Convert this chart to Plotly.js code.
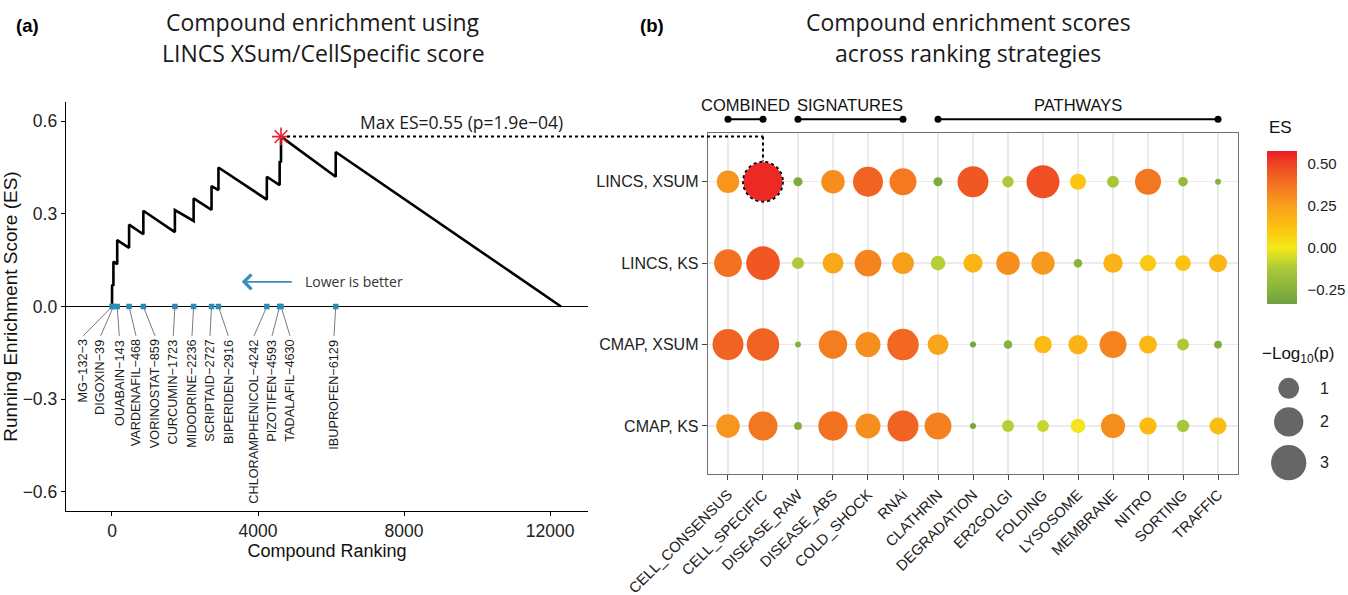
<!DOCTYPE html>
<html><head><meta charset="utf-8">
<script src="https://cdn.plot.ly/plotly-3.0.1.min.js"></script>
<style>html,body{margin:0;padding:0;background:#fff}#chart{width:1348px;height:595px}</style>
</head><body><div id="chart"></div>
<script>
// ---------------- Panel (a) data ----------------
const hitNames = ["MG\u2212132","DIGOXIN","OUABAIN","VARDENAFIL","VORINOSTAT","CURCUMIN","MIDODRINE","SCRIPTAID","BIPERIDEN","CHLORAMPHENICOL","PIZOTIFEN","TADALAFIL","IBUPROFEN"];
const hitRanks = [3,39,143,468,859,1723,2236,2727,2916,4242,4593,4630,6129];
const curveRank = [0,3,3,39,39,143,143,468,468,859,859,1723,1723,2236,2236,2727,2727,2916,2916,4242,4242,4593,4593,4630,4630,6129,6129,12300];
const curveES = [0,0,0.07,0.067,0.145,0.137,0.215,0.19,0.265,0.234,0.31,0.241,0.312,0.277,0.35,0.313,0.39,0.377,0.45,0.346,0.42,0.393,0.47,0.467,0.55,0.42,0.50,0];
const maxP = "1.9e\u221204";
const rankTicks = [0,4000,8000,12000];
const esAxisTicks = [-0.6,-0.3,0,0.3,0.6];
// label placement (layout, repelled positions in rank units)
const labelPos = [-786,-310,200,658,1178,1680,2192,2685,3186,3890,4384,4877,6082];

// ---------------- Panel (b) data ----------------
const strategies = ["LINCS, XSUM","LINCS, KS","CMAP, XSUM","CMAP, KS"];
const rankings = ["CELL_CONSENSUS","CELL_SPECIFIC","DISEASE_RAW","DISEASE_ABS","COLD_SHOCK","RNAi","CLATHRIN","DEGRADATION","ER2GOLGI","FOLDING","LYSOSOME","MEMBRANE","NITRO","SORTING","TRAFFIC"];
const esLincsXsum = [0.28,0.55,-0.28,0.30,0.42,0.36,-0.28,0.45,-0.12,0.47,0.12,-0.13,0.37,-0.20,-0.25];
const esLincsKs   = [0.38,0.45,-0.12,0.22,0.33,0.25,-0.10,0.17,0.30,0.27,-0.25,0.18,0.10,0.12,0.17];
const esCmapXsum  = [0.42,0.42,-0.25,0.35,0.30,0.41,0.23,-0.30,-0.25,0.15,0.18,0.33,0.16,-0.12,-0.27];
const esCmapKs    = [0.28,0.37,-0.27,0.38,0.30,0.42,0.34,-0.30,-0.10,-0.07,0.02,0.30,0.15,-0.13,0.14];
const lpLincsXsum = [1.16,3.72,0.33,1.26,2.11,1.68,0.33,2.26,0.39,2.59,0.61,0.41,1.56,0.34,0.30];
const lpLincsKs   = [1.78,2.69,0.41,0.99,1.63,1.08,0.53,0.83,1.26,1.23,0.32,0.86,0.63,0.59,0.75];
const lpCmapXsum  = [2.26,2.51,0.30,1.88,1.43,2.34,0.99,0.30,0.32,0.72,0.86,1.68,0.75,0.41,0.31];
const lpCmapKs    = [1.26,1.96,0.31,2.02,1.43,2.26,1.68,0.30,0.41,0.41,0.53,1.34,0.70,0.43,0.68];
const groupNames = ["COMBINED","SIGNATURES","PATHWAYS"];
const groupFirst = [0,2,6];
const groupLast  = [1,5,14];
const sizeLegendValues = [1,2,3];
const esTicks = [-0.25,0,0.25,0.5];
const esTickText = ["\u22120.25","0.00","0.25","0.50"];

// ---------------- layout geometry ----------------
const W = 1348, H = 595;
const px = v => v / W, py = v => 1 - v / H;
const A = {xDom:[px(66),px(588)], yDom:[py(511),py(102)], xR:[-1260,13040], yR:[-0.662,0.662]};
const B = {xDom:[px(708),px(1238)], yDom:[py(474),py(133.3)], xR:[-0.571,14.571], yR:[3.59,-0.595]};
const toP = (dom, r, v) => dom[0] + (v - r[0]) / (r[1] - r[0]) * (dom[1] - dom[0]);

const FONT = "Liberation Sans, Arial, Helvetica, sans-serif";
const TFONT = "Open Sans, Noto Sans, sans-serif";
const INK = "#1a1a1a";
const TEAL = "#2b8db3";

// ---------------- panel (a) traces ----------------
const connX = [], connY = [];
hitRanks.forEach((r, i) => { connX.push(r, labelPos[i], null); connY.push(0, -0.095, null); });
let iMax = 0; curveES.forEach((v, i) => { if (v > curveES[iMax]) iMax = i; });
const starRank = curveRank[iMax], starES = curveES[iMax];

const traces = [
  {x: connX, y: connY, xaxis:'x', yaxis:'y', mode:'lines', line:{color:'#6b6b6b', width:0.9}, hoverinfo:'skip'},
  {x: curveRank, y: curveES, xaxis:'x', yaxis:'y', mode:'lines', line:{color:'#000', width:2.6}},
  {x: hitRanks, y: hitRanks.map(() => 0), xaxis:'x', yaxis:'y', mode:'markers', marker:{symbol:'square', size:5.5, color:TEAL, opacity:1}},
  {x:[starRank], y:[starES], xaxis:'x', yaxis:'y', mode:'markers', cliponaxis:false,
   marker:{symbol:'asterisk-open', size:15, color:'#e8202a', line:{color:'#e8202a', width:1.6}}}
];

// ---------------- panel (b) traces ----------------
const esRows = [esLincsXsum, esLincsKs, esCmapXsum, esCmapKs];
const lpRows = [lpLincsXsum, lpLincsKs, lpCmapXsum, lpCmapKs];
const allLp = lpRows.flat();
const vmin = Math.min(...allLp), vmax = Math.max(...allLp);
const dMin = 6, dMax = 39;
const sizeScale = v => dMin + (dMax - dMin) * Math.sqrt(Math.max(0, (v - vmin) / (vmax - vmin)));
const bx = [], by = [], bc = [], bs = [];
esRows.forEach((row, r) => row.forEach((es, c) => { bx.push(c); by.push(r); bc.push(es); bs.push(sizeScale(lpRows[r][c])); }));
const cmin = -0.33, cmax = 0.575;
const esScale = [[0,'#6f9e3f'],[0.088,'#86b23c'],[0.227,'#a9c83a'],[0.365,'#f2ea1a'],[0.503,'#fdc111'],[0.641,'#f8a01c'],[0.779,'#f37421'],[0.917,'#ee4423'],[1,'#ec1c24']];
traces.push({
  x: bx, y: by, xaxis:'x2', yaxis:'y2', mode:'markers',
  marker:{size: bs, sizemode:'diameter', color: bc, cmin: cmin, cmax: cmax, colorscale: esScale, opacity:1, line:{width:0},
    colorbar:{x: px(1267), xanchor:'left', xpad:0, y: py(150.7), yanchor:'top', ypad:0,
      len:152.6, lenmode:'pixels', thickness:30, thicknessmode:'pixels', outlinewidth:0,
      tickvals: esTicks, ticktext: esTickText, ticks:'outside', ticklen:8, tickcolor:'rgba(0,0,0,0)',
      tickfont:{family:FONT, size:15, color:'#222'}, title:{text:''}}}
});

// group brackets
const gbx = [], gby = [];
groupFirst.forEach((f, i) => { gbx.push(f, groupLast[i], null); gby.push(119.3, 119.3, null); });
traces.push({x: gbx, y: gby, xaxis:'x4', yaxis:'y4', mode:'lines+markers', cliponaxis:false,
  line:{color:'#000', width:2}, marker:{color:'#000', size:7, opacity:1}});

// size legend
const legD = sizeLegendValues.map(sizeScale);
const legY = []; let cy = 388.3;
legD.forEach((d, i) => { if (i > 0) cy += legD[i-1]/2 + d/2 + 8.5; legY.push(cy); });
traces.push({x: sizeLegendValues.map(() => 1288.7), y: legY, xaxis:'x3', yaxis:'y3', mode:'markers', cliponaxis:false,
  marker:{size: legD, color:'#666666', opacity:1, line:{width:0}}});

// ---------------- annotations & shapes ----------------
const ann = [];
hitNames.forEach((n, i) => ann.push({x: labelPos[i], y: -0.101, xref:'x', yref:'y', text: n + '\u2212' + hitRanks[i],
  textangle:-90, xanchor:'center', yanchor:'top', showarrow:false, font:{family:FONT, size:12.7, color:INK}}));
ann.push({x: 9575, y: 0.598, xref:'x', yref:'y', text: 'Max ES=' + starES.toFixed(2) + ' (p=' + maxP + ')',
  showarrow:false, xanchor:'center', yanchor:'middle', font:{family:TFONT, size:17.5, color:INK}});
ann.push({x: 5241, y: 0.080, xref:'x', yref:'y', text:'Lower is better', showarrow:false, xanchor:'left', yanchor:'middle',
  font:{family:TFONT, size:14, color:'#333'}});
ann.push({x: 3553, y: 0.080, ax: 4967, ay: 0.080, xref:'x', yref:'y', axref:'x', ayref:'y', text:'', showarrow:true,
  arrowhead:4, arrowsize:1.6, arrowwidth:1.8, arrowcolor:'#3a8dbd', standoff:0, startstandoff:0});
// titles
const titleFont = {family:TFONT, size:23, color:INK};
ann.push({x: px(323), y: py(22), xref:'paper', yref:'paper', text:'Compound enrichment using', showarrow:false, xanchor:'center', yanchor:'middle', font:titleFont});
ann.push({x: px(323), y: py(53), xref:'paper', yref:'paper', text:'LINCS XSum/CellSpecific score', showarrow:false, xanchor:'center', yanchor:'middle', font:titleFont});
ann.push({x: px(968), y: py(22), xref:'paper', yref:'paper', text:'Compound enrichment scores', showarrow:false, xanchor:'center', yanchor:'middle', font:titleFont});
ann.push({x: px(968), y: py(53), xref:'paper', yref:'paper', text:'across ranking strategies', showarrow:false, xanchor:'center', yanchor:'middle', font:titleFont});
ann.push({x: px(14), y: py(26), xref:'paper', yref:'paper', text:'<b>(a)</b>', showarrow:false, xanchor:'left', yanchor:'middle', font:{family:FONT, size:18.5, color:'#000'}});
ann.push({x: px(638), y: py(26), xref:'paper', yref:'paper', text:'<b>(b)</b>', showarrow:false, xanchor:'left', yanchor:'middle', font:{family:FONT, size:18.5, color:'#000'}});
// group names
groupNames.forEach((g, i) => ann.push({x: (groupFirst[i] + groupLast[i]) / 2, y: py(105), xref:'x2', yref:'paper', text: g,
  showarrow:false, xanchor:'center', yanchor:'middle', font:{family:FONT, size:16.5, color:'#111'}}));
// legends
ann.push({x: px(1267), y: py(127), xref:'paper', yref:'paper', text:'ES', showarrow:false, xanchor:'left', yanchor:'middle', font:{family:FONT, size:17, color:'#111'}});
ann.push({x: px(1260), y: py(355), xref:'paper', yref:'paper', text:'\u2212Log<sub>10</sub>(p)', showarrow:false, xanchor:'left', yanchor:'middle', font:{family:FONT, size:17, color:'#111'}});
sizeLegendValues.forEach((v, i) => ann.push({x: 1324.7, y: legY[i], xref:'x3', yref:'y3', text: String(v), showarrow:false,
  xanchor:'center', yanchor:'middle', font:{family:FONT, size:16, color:'#222'}}));

// dotted connector from the max ES star to the CELL_SPECIFIC / LINCS XSUM cell
const sx = toP(A.xDom, A.xR, starRank), sy = toP(A.yDom, A.yR, starES);
const cellCol = rankings.indexOf("CELL_SPECIFIC"), cellRow = strategies.indexOf("LINCS, XSUM");
const cx = toP(B.xDom, B.xR, cellCol);
const cellD = bs[cellRow * rankings.length + cellCol];
const cyTop = toP(B.yDom, B.yR, cellRow) + (cellD / 2 + 1) / H;
const shapes = [
  {type:'line', xref:'paper', yref:'paper', x0: sx + 6/W, y0: sy, x1: cx, y1: sy, line:{color:'#000', width:2, dash:'dot'}},
  {type:'line', xref:'paper', yref:'paper', x0: cx, y0: sy, x1: cx, y1: cyTop, line:{color:'#000', width:2, dash:'dot'}},
  {type:'circle', xref:'x2', yref:'y2', xsizemode:'pixel', ysizemode:'pixel', xanchor: cellCol, yanchor: cellRow,
   x0: -(cellD/2 + 0.5), x1: cellD/2 + 0.5, y0: -(cellD/2 + 0.5), y1: cellD/2 + 0.5, line:{color:'#000', width:1.8, dash:'dot'}}
];

const axFont = {family:FONT, size:17.5, color:'#222'};
const layout = {
  width: W, height: H, margin:{l:0, r:0, t:0, b:0}, paper_bgcolor:'#fff', plot_bgcolor:'rgba(0,0,0,0)',
  showlegend:false, hovermode:false,
  xaxis:{domain:A.xDom, range:A.xR, anchor:'y', showline:true, linecolor:'#000', linewidth:1.3, ticks:'outside', ticklen:4, tickcolor:'#000',
    tickvals: rankTicks, ticktext: rankTicks.map(String), tickfont: axFont, showgrid:false, zeroline:false, automargin:false,
    title:{text:'Compound Ranking', font:{family:FONT, size:18, color:'#111'}, standoff:0}},
  yaxis:{domain:A.yDom, range:A.yR, anchor:'x', showline:true, linecolor:'#000', linewidth:1.3, ticks:'outside', ticklen:4, tickcolor:'#000',
    tickvals: esAxisTicks, ticktext: esAxisTicks.map(v => (v < 0 ? '\u2212' : '') + Math.abs(v).toFixed(1)), tickfont: axFont,
    showgrid:false, zeroline:true, zerolinecolor:'#000', zerolinewidth:1.6, automargin:false,
    title:{text:'Running Enrichment Score (ES)', font:{family:FONT, size:19, color:'#111'}, standoff:2}},
  xaxis2:{domain:B.xDom, range:B.xR, anchor:'y2', showline:true, mirror:true, linecolor:'#6e6e6e', linewidth:1.3,
    ticks:'outside', ticklen:5, tickcolor:'#444', tickvals: rankings.map((_, i) => i), ticktext: rankings, tickangle:-45,
    tickfont:{family:FONT, size:14.8, color:'#222'}, showgrid:true, gridcolor:'#ebebeb', gridwidth:1.5, zeroline:false, automargin:false},
  yaxis2:{domain:B.yDom, range:B.yR, anchor:'x2', showline:true, mirror:true, linecolor:'#6e6e6e', linewidth:1.3,
    ticks:'outside', ticklen:5, tickcolor:'#444', tickvals: strategies.map((_, i) => i), ticktext: strategies,
    tickfont:{family:FONT, size:16, color:'#222'}, showgrid:true, gridcolor:'#ebebeb', gridwidth:1.5, zeroline:false, automargin:false},
  xaxis3:{domain:[px(1262), px(1348)], range:[1262,1348], anchor:'y3', visible:false},
  yaxis3:{domain:[py(490), py(370)], range:[490,370], anchor:'x3', visible:false},
  xaxis4:{domain:B.xDom, range:B.xR, anchor:'y4', visible:false},
  yaxis4:{domain:[py(140), py(95)], range:[140,95], anchor:'x4', visible:false},
  annotations: ann, shapes: shapes
};
Plotly.newPlot('chart', traces, layout, {staticPlot:true, displayModeBar:false});
</script></body></html>
